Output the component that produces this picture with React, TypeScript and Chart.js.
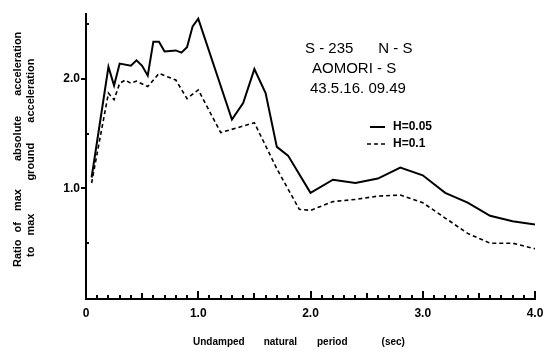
import React, { useEffect, useRef } from "react";
import { Chart, registerables } from "chart.js";

Chart.register(...registerables);

// H = 0.05 (solid)
const periodH005 = [0.05, 0.2, 0.25, 0.3, 0.4, 0.45, 0.5, 0.55, 0.6, 0.65, 0.7, 0.8, 0.85, 0.9, 0.95, 1.0, 1.3, 1.4, 1.5, 1.6, 1.7, 1.8, 2.0, 2.2, 2.4, 2.6, 2.8, 3.0, 3.2, 3.4, 3.6, 3.8, 4.0];
const ratioH005 = [1.1, 2.11, 1.94, 2.14, 2.12, 2.17, 2.12, 2.03, 2.34, 2.34, 2.25, 2.26, 2.24, 2.29, 2.48, 2.55, 1.63, 1.78, 2.09, 1.87, 1.38, 1.3, 0.96, 1.08, 1.05, 1.09, 1.19, 1.12, 0.96, 0.87, 0.75, 0.7, 0.67];

// H = 0.1 (dashed)
const periodH01 = [0.05, 0.2, 0.25, 0.3, 0.35, 0.4, 0.45, 0.55, 0.65, 0.7, 0.8, 0.9, 1.0, 1.2, 1.5, 1.7, 1.9, 2.0, 2.2, 2.4, 2.6, 2.8, 3.0, 3.2, 3.4, 3.6, 3.8, 4.0];
const ratioH01 = [1.05, 1.87, 1.81, 1.96, 1.99, 1.96, 1.98, 1.93, 2.05, 2.03, 1.99, 1.82, 1.9, 1.51, 1.6, 1.18, 0.81, 0.8, 0.88, 0.9, 0.93, 0.94, 0.87, 0.73, 0.59, 0.5, 0.5, 0.45];

const xTickLabels = ["0", "1.0", "2.0", "3.0", "4.0"];
const yTickLabels = ["1.0", "2.0"];

const seriesLabels = ["H=0.05", "H=0.1"];
const yTitleLines = [
  ["Ratio", "of", "max", "absolute", "acceleration"],
  ["to", "max", "ground", "acceleration"],
];
const xTitleWords = ["Undamped", "natural", "period", "(sec)"];
const infoLines = ["S - 235      N - S", "AOMORI - S", "43.5.16. 09.49"];

const FONT = "'Liberation Sans', Arial, sans-serif";

export default function App() {
  const ref = useRef<HTMLCanvasElement | null>(null);

  useEffect(() => {
    const canvas = ref.current;
    if (!canvas) return;

    const decor = {
      id: "decor",
      afterDraw(chart: any) {
        const ctx = chart.ctx;
        const xs = chart.scales.x;
        const ys = chart.scales.y;
        const x0 = Math.round(xs.getPixelForValue(0));
        const y0 = Math.round(ys.getPixelForValue(0));
        const yTop = Math.round(ys.getPixelForValue(2.6));
        const xEnd = Math.round(xs.getPixelForValue(4));

        ctx.save();
        ctx.fillStyle = "#000";
        // axis lines
        ctx.fillRect(x0 - 1, yTop, 2, y0 - yTop + 2);
        ctx.fillRect(x0 - 1, y0, xEnd - x0 + 2, 2);
        // x ticks every 0.1 (upward)
        for (let i = 1; i <= 40; i++) {
          const px = Math.round(xs.getPixelForValue(i / 10));
          const len = i % 10 === 0 ? 7 : i % 5 === 0 ? 5 : 3;
          ctx.fillRect(px - 1, y0 - len, 2, len);
        }
        // y ticks at 0.5
        for (let i = 1; i <= 5; i++) {
          const py = Math.round(ys.getPixelForValue(i / 2));
          if (i % 2 === 0) ctx.fillRect(x0 - 5, py - 1, 5, 2);
          else ctx.fillRect(x0, py - 1, 3, 2);
        }

        // Y title (rotated, two lines)
        ctx.font = `bold 11px ${FONT}`;
        const yStarts = [267, 257];
        const yXs = [18, 31];
        const yGaps = [
          [7, 11, 28, 20],
          [11, 33, 20],
        ];
        yTitleLines.forEach((words, li) => {
          ctx.save();
          ctx.translate(yXs[li], yStarts[li]);
          ctx.rotate(-Math.PI / 2);
          ctx.textBaseline = "middle";
          ctx.textAlign = "left";
          let pos = 0;
          words.forEach((w, wi) => {
            ctx.fillText(w, pos, 0);
            pos += ctx.measureText(w).width + (yGaps[li][wi] || 0);
          });
          ctx.restore();
        });
        // X title
        ctx.font = `bold 10px ${FONT}`;
        ctx.textBaseline = "middle";
        ctx.textAlign = "left";
        const xGaps = [19, 20, 34];
        let px = 193;
        xTitleWords.forEach((w, i) => {
          ctx.fillText(w, px, 342);
          px += ctx.measureText(w).width + (xGaps[i] || 0);
        });
        // info text
        ctx.font = `15px ${FONT}`;
        ctx.fillText(infoLines[0], 305, 49);
        ctx.fillText(infoLines[1], 312, 69);
        ctx.fillText(infoLines[2], 310, 89);
        // legend
        const ds = chart.data.datasets;
        const legY = [127, 144];
        const legX0 = [370, 367];
        ds.forEach((d: any, i: number) => {
          ctx.save();
          ctx.strokeStyle = "#000";
          ctx.lineWidth = d.borderWidth;
          ctx.setLineDash(d.borderDash || []);
          ctx.beginPath();
          ctx.moveTo(legX0[i], legY[i]);
          ctx.lineTo(385, legY[i]);
          ctx.stroke();
          ctx.restore();
          ctx.font = `bold 12px ${FONT}`;
          ctx.textBaseline = "middle";
          ctx.fillText(d.label, 393, legY[i]);
        });
        ctx.restore();
      },
    };

    const chart = new Chart(canvas, {
      type: "line",
      data: {
        datasets: [
          {
            label: seriesLabels[0],
            data: periodH005.map((x, i) => ({ x, y: ratioH005[i] })),
            borderColor: "#000",
            borderWidth: 2,
            pointRadius: 0,
            tension: 0,
            fill: false,
          },
          {
            label: seriesLabels[1],
            data: periodH01.map((x, i) => ({ x, y: ratioH01[i] })),
            borderColor: "#000",
            borderWidth: 1.6,
            borderDash: [4, 3],
            pointRadius: 0,
            tension: 0,
            fill: false,
          },
        ],
      },
      options: {
        responsive: false,
        animation: false,
        layout: { padding: { top: 5, right: 19, left: 0, bottom: 0 } },
        plugins: { legend: { display: false }, tooltip: { enabled: false } },
        scales: {
          x: {
            type: "linear",
            min: 0,
            max: 4,
            grid: { display: false, drawTicks: false },
            border: { display: false },
            afterFit: (s: any) => {
              s.height = 55;
            },
            ticks: {
              stepSize: 1,
              padding: 8,
              color: "#000",
              font: { family: FONT, size: 12, weight: "bold" },
              callback: (v: any) => xTickLabels[Math.round(Number(v))] ?? "",
            },
          },
          y: {
            type: "linear",
            min: 0,
            max: 2.6,
            grid: { display: false, drawTicks: false },
            border: { display: false },
            afterFit: (s: any) => {
              s.width = 86;
            },
            ticks: {
              stepSize: 1,
              padding: 6,
              color: "#000",
              font: { family: FONT, size: 12, weight: "bold" },
              callback: (v: any) => {
                const n = Math.round(Number(v));
                return n >= 1 ? yTickLabels[n - 1] ?? "" : "";
              },
            },
          },
        },
      },
      plugins: [decor],
    });
    return () => chart.destroy();
  }, []);

  return (
    <div style={{ position: "fixed", left: 0, top: 0, width: 554, height: 353, background: "#fff" }}>
      <canvas ref={ref} width={554} height={353} style={{ width: 554, height: 353, display: "block" }} />
    </div>
  );
}
